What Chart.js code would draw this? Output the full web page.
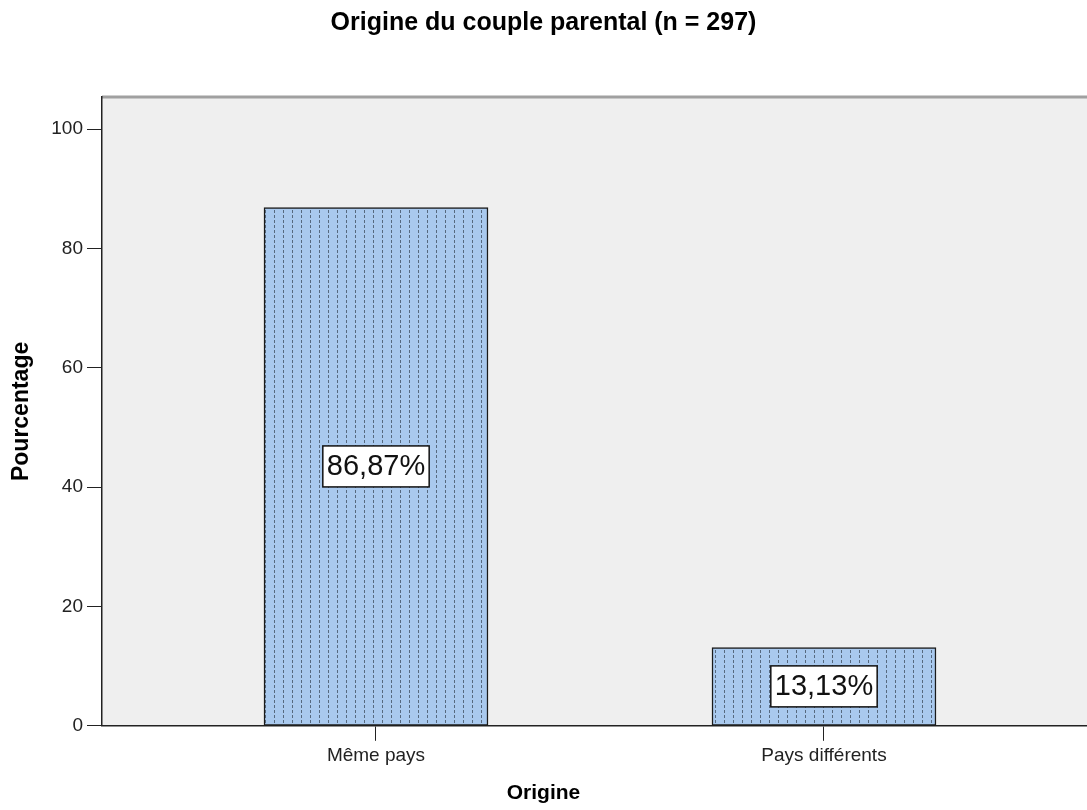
<!DOCTYPE html>
<html>
<head>
<meta charset="utf-8">
<script src="https://cdn.jsdelivr.net/npm/chart.js@4"></script>
<style>
  html, body { margin: 0; padding: 0; background: #fff; overflow: hidden; }
</style>
</head>
<body>
<canvas id="canvas" width="1087" height="810"></canvas>
<script>
const categories = ['Même pays', 'Pays différents'];
const percentages = [86.87, 13.13];
const yTicks = [0, 20, 40, 60, 80, 100];

const FONT = '"Liberation Sans", Arial, sans-serif';

// hatched blue fill: light blue with small vertical dashes
function makePattern() {
  const c = document.createElement('canvas');
  c.width = 9; c.height = 5;
  const g = c.getContext('2d');
  g.fillStyle = '#a9c9ee';
  g.fillRect(0, 0, 9, 5);
  g.fillStyle = '#56697f';
  g.fillRect(4, 0, 1, 3);
  return document.getElementById('canvas').getContext('2d').createPattern(c, 'repeat');
}

const plotBg = {
  id: 'plotBg',
  beforeDraw(chart) {
    const { ctx, chartArea: a } = chart;
    ctx.save();
    ctx.fillStyle = '#efefef';
    ctx.fillRect(a.left, a.top, a.right - a.left, a.bottom - a.top);
    ctx.strokeStyle = '#a0a0a0';
    ctx.lineWidth = 3;
    ctx.beginPath();
    ctx.moveTo(a.left, a.top);
    ctx.lineTo(a.right, a.top);
    ctx.stroke();
    ctx.restore();
  }
};

const valueLabels = {
  id: 'valueLabels',
  afterDatasetsDraw(chart) {
    const { ctx } = chart;
    const meta = chart.getDatasetMeta(0);
    ctx.save();
    ctx.font = '29px ' + FONT;
    ctx.textAlign = 'center';
    ctx.textBaseline = 'middle';
    meta.data.forEach((bar, i) => {
      const txt = percentages[i].toFixed(2).replace('.', ',') + '%';
      const cy = (bar.y + bar.base) / 2;
      const w = ctx.measureText(txt).width + 8;
      const h = 41;
      ctx.fillStyle = '#fff';
      ctx.fillRect(bar.x - w / 2, cy - h / 2, w, h);
      ctx.strokeStyle = '#111';
      ctx.lineWidth = 1.5;
      ctx.strokeRect(bar.x - w / 2, cy - h / 2, w, h);
      ctx.fillStyle = '#111';
      ctx.fillText(txt, bar.x, cy + 1);
    });
    ctx.restore();
  }
};

new Chart(document.getElementById('canvas'), {
  type: 'bar',
  data: {
    datasets: [{
      data: percentages.map((v, i) => ({ x: i, y: v })),
      backgroundColor: makePattern(),
      borderColor: '#1a1a1a',
      borderWidth: 1.5,
      borderSkipped: false,
      barThickness: 224
    }]
  },
  options: {
    responsive: false,
    animation: false,
    layout: { padding: 0 },
    plugins: {
      legend: { display: false },
      tooltip: { enabled: false },
      title: {
        display: true,
        text: 'Origine du couple parental (n = 297)',
        color: '#000',
        font: { family: FONT, size: 25, weight: 'bold' },
        padding: { top: 8, bottom: 59 }
      },
      subtitle: {
        display: true,
        position: 'bottom',
        text: 'Origine',
        color: '#000',
        font: { family: FONT, size: 21, weight: 'bold' },
        padding: { top: 0, bottom: 4 }
      }
    },
    scales: {
      x: {
        type: 'linear',
        min: -0.6116,
        max: 1.5871,
        offset: false,
        bounds: 'data',
        afterBuildTicks: s => { s.ticks = categories.map((c, i) => ({ value: i })); },
        afterFit: s => { s.height = 55; },
        ticks: {
          callback: v => categories[v],
          color: '#222',
          font: { family: FONT, size: 19 },
          padding: 4,
          maxRotation: 0,
          autoSkip: false
        },
        grid: { offset: false, drawOnChartArea: false, drawTicks: true, tickLength: 15, tickColor: '#222' },
        border: { color: '#222', width: 1.5 }
      },
      y: {
        min: 0,
        max: 105.4,
        afterBuildTicks: s => { s.ticks = yTicks.map(v => ({ value: v })); },
        afterFit: s => { s.width = 102; },
        ticks: {
          color: '#222',
          font: { family: FONT, size: 19 },
          padding: 4
        },
        grid: { drawOnChartArea: false, drawTicks: true, tickLength: 15, tickColor: '#222' },
        border: { color: '#222', width: 1.5 },
        title: {
          display: true,
          text: 'Pourcentage',
          color: '#000',
          font: { family: FONT, size: 23, weight: 'bold' },
          padding: { top: 8, bottom: 0 }
        }
      }
    }
  },
  plugins: [plotBg, valueLabels]
});
</script>
</body>
</html>
